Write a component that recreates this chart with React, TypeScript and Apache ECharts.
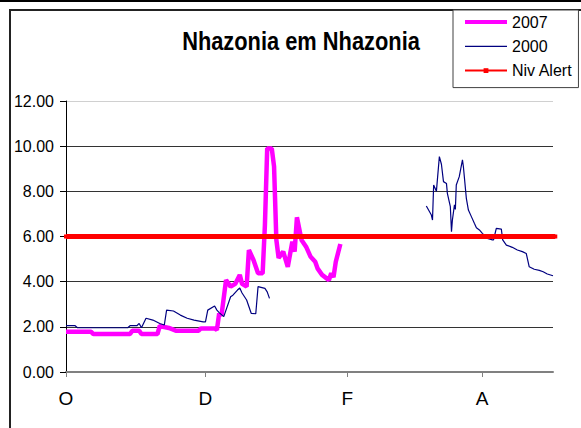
import React, { useEffect, useRef } from 'react';
import * as echarts from 'echarts';

// X axis: days since 1 October
const tickDays = [0, 61, 123, 182];
const tickLabels = ['O', 'D', 'F', 'A'];

const days2007 = [0, 11, 12, 28, 29, 32, 33, 40, 41, 45, 48, 58, 59, 65, 66, 67, 68, 70, 72, 74, 76, 77, 79, 80, 82, 84, 86, 87, 88, 90, 91, 92, 93, 95, 97, 99, 100, 101, 103, 105, 107, 109, 110, 112, 115, 116, 117, 118, 120];
const vals2007 = [1.78, 1.78, 1.68, 1.68, 1.83, 1.83, 1.68, 1.68, 2.04, 1.95, 1.83, 1.83, 1.93, 1.93, 1.86, 2.6, 2.5, 4.07, 3.78, 3.9, 4.3, 3.9, 3.78, 5.4, 4.96, 4.37, 4.37, 6.5, 9.9, 9.9, 9.1, 5.85, 5.05, 5.33, 4.66, 5.77, 5.33, 6.85, 5.85, 5.55, 5.1, 4.88, 4.59, 4.3, 4.07, 4.37, 4.2, 4.88, 5.67];

const days2000 = [0, 4, 5, 27, 28, 31, 32, 33, 35, 38, 41, 43, 44, 47, 50, 53, 56, 60, 61, 62, 65, 66, 67, 69, 72, 73, 75, 76, 77, 79, 81, 83, 84, 87, 88, 89,
  120,
  157.6, 159.8, 160.3, 160.8, 162, 163.3, 164.2, 165.1, 166.4, 166.8, 168.1, 168.6, 169, 169.9, 170.3, 170.7, 172, 173.4, 173.8, 175.1, 176, 177.3, 178.6, 179.5, 180.8, 182.1, 184.3, 186.5, 187, 188.2, 190.4, 191, 192.6, 195.2, 197.4, 199.6, 201.3, 202.6, 204.8, 207, 208.7, 210.5, 213];
const vals2000: (number | string)[] = [2.05, 2.05, 1.96, 1.96, 2.05, 2.05, 2.15, 1.96, 2.38, 2.3, 2.15, 2.08, 2.74, 2.7, 2.52, 2.38, 2.3, 2.22, 2.22, 2.74, 2.92, 2.74, 2.63, 2.45, 3.33, 3.4, 3.63, 3.72, 3.5, 3.19, 2.6, 2.58, 3.78, 3.7, 3.55, 3.26,
  '-',
  7.35, 6.95, 6.73, 8.28, 8.0, 9.54, 9.2, 8.43, 8.35, 7.91, 7.32, 6.21, 6.73, 7.4, 7.2, 8.28, 8.65, 9.39, 9.1, 7.69, 7.17, 6.88, 6.59, 6.39, 6.29, 6.14, 5.92, 5.85, 5.85, 6.36, 6.33, 5.85, 5.62, 5.52, 5.4, 5.33, 5.25, 4.66, 4.55, 4.5, 4.44, 4.34, 4.26];

const alertDays = [0, 214];
const alertVals = [6, 6];

const zip = (xs: number[], ys: (number | string)[]) => xs.map((x, i) => [x, ys[i]]);

export default function App() {
  const ref = useRef<HTMLDivElement>(null);
  useEffect(() => {
    if (!ref.current) return;
    const chart = echarts.init(ref.current, undefined, { renderer: 'svg' });
    const font = "'Liberation Sans', Arial, sans-serif";
    chart.setOption({
      animation: false,
      backgroundColor: '#fff',
      grid: { left: 66, right: 28, top: 101, bottom: 56, containLabel: false, outerBoundsMode: 'none' },
      graphic: [
        { type: 'line', shape: { x1: 0, y1: 1, x2: 581, y2: 1 }, style: { stroke: '#000', lineWidth: 2 } },
        { type: 'polyline', shape: { points: [[10, 428], [10, 10], [581, 10]] }, style: { stroke: '#222', lineWidth: 2, fill: null } },
        {
          type: 'text', x: 301, y: 41, scaleX: 0.84,
          style: { text: 'Nhazonia em Nhazonia', font: `bold 26px ${font}`, fill: '#000', textAlign: 'center', textVerticalAlign: 'middle' },
        },
      ],
      legend: {
        orient: 'vertical', left: 453, top: 10, padding: [4, 6, 9, 10],
        itemWidth: 42, itemHeight: 6, itemGap: 8.3, selectedMode: false,
        backgroundColor: '#fff', borderColor: '#404040', borderWidth: 1, borderRadius: 0,
        textStyle: { fontSize: 16, color: '#000', fontFamily: font },
        data: [
          { name: '2007', itemStyle: { opacity: 0 }, lineStyle: { width: 4 } },
          { name: '2000', itemStyle: { opacity: 0 }, lineStyle: { width: 1.2 } },
          { name: 'Niv Alert', lineStyle: { width: 2 } },
        ],
      },
      xAxis: {
        type: 'value', min: 0, max: 213,
        axisLine: { show: true, lineStyle: { color: '#808080', width: 2 } },
        axisTick: { show: true, customValues: tickDays, length: 5, lineStyle: { color: '#808080', width: 1 } },
        axisLabel: {
          customValues: tickDays, fontSize: 19, color: '#000', margin: 17, fontFamily: font,
          formatter: (v: number) => { const i = tickDays.indexOf(v); return i >= 0 ? tickLabels[i] : ''; },
        },
        splitLine: { show: false },
      },
      yAxis: {
        type: 'value', min: 0, max: 12, interval: 2,
        axisLine: { show: true, lineStyle: { color: '#000', width: 1 } },
        axisTick: { show: true, length: 6, lineStyle: { color: '#000' } },
        axisLabel: { formatter: (v: number) => v.toFixed(2), fontSize: 16, color: '#000', margin: 12, fontFamily: font },
        splitLine: { show: true, lineStyle: { color: ['#808080', '#333', '#333', '#333', '#333', '#333', '#d0d0d0'], width: 1 } },
      },
      series: [
        { name: '2007', type: 'line', data: zip(days2007, vals2007), symbol: 'none', lineStyle: { color: '#FF00FF', width: 4.5 }, itemStyle: { color: '#FF00FF' } },
        { name: '2000', type: 'line', data: zip(days2000, vals2000), symbol: 'none', connectNulls: false, lineStyle: { color: '#000080', width: 1.2 }, itemStyle: { color: '#000080' } },
        { name: 'Niv Alert', type: 'line', data: zip(alertDays, alertVals), symbol: 'rect', symbolSize: 4, clip: false, lineStyle: { color: '#FF0000', width: 5 }, itemStyle: { color: '#FF0000' } },
      ],
    });
    return () => chart.dispose();
  }, []);
  return <div ref={ref} style={{ position: 'absolute', left: 0, top: 0, width: 581, height: 428 }} />;
}
